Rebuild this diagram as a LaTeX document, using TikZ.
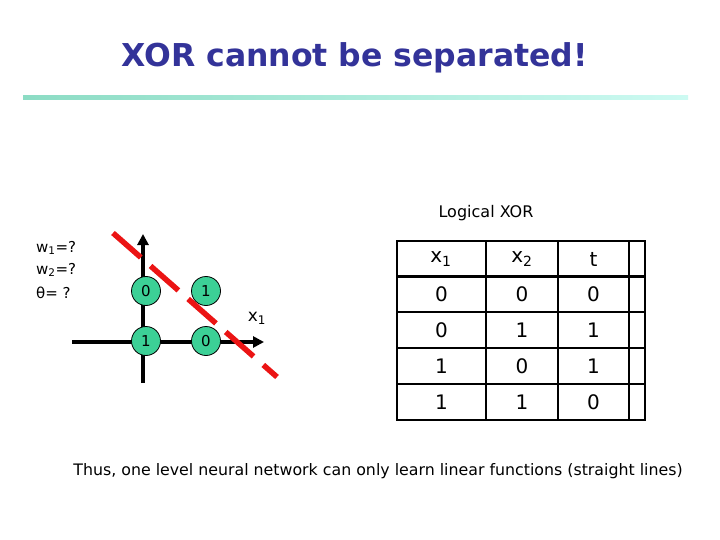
\documentclass[tikz,border=0pt]{standalone}
\usepackage{fontspec}
\setmainfont{DejaVu Sans}
\usetikzlibrary{arrows.meta}
\definecolor{titleblue}{RGB}{51,51,153}
\definecolor{mint}{RGB}{60,208,150}
\definecolor{gradL}{RGB}{140,220,196}
\definecolor{gradR}{RGB}{205,250,242}
\definecolor{sepred}{RGB}{235,20,20}
\newcommand{\fs}[1]{\fontsize{#1}{#1}\selectfont}
\tikzset{
  axis/.style={line width=3.5pt,-{Triangle[length=11pt,width=11pt]}},
  axisplain/.style={line width=3.5pt},
  pt/.style={circle,draw=black,line width=0.8pt,fill=mint,minimum size=29pt,inner sep=0pt,font=\fs{15}},
  grid/.style={line width=2.4pt,line cap=rect},
  cell/.style={font=\fs{20},inner sep=0pt,anchor=center},
  sepline/.style={sepred,line width=5.5pt,dash pattern=on 37pt off 13pt},
  lbl/.style={font=\fs{15},inner sep=0pt,anchor=west}
}
\begin{document}
\begin{tikzpicture}[x=1pt,y=-1pt]
\useasboundingbox[fill=white] (0,0) rectangle (720,540);
% title
\node[font=\bfseries\fs{31.5},text=titleblue,inner sep=0pt,anchor=base west] (title) at (121,67) {XOR cannot be separated!};
\shade[left color=gradL,right color=gradR] (23,96) rectangle (688,100);
% left labels
\node[lbl] (w1) at (36,248) {w\textsubscript{1}=?};
\node[lbl] (w2) at (36,270) {w\textsubscript{2}=?};
\node[lbl] (th) at (36,293) {θ= ?};
% axes
\coordinate (ytop) at (143,234);
\coordinate (ybot) at (143,383);
\coordinate (xl) at (72,342);
\coordinate (xr) at (264,342);
\draw[axisplain] (ybot) -- (143,240);
\draw[axis] (143,250) -- (ytop);
\draw[axis] (xl) -- (xr);
\node[font=\fs{17},inner sep=0pt] (xlab) at (257,318) {x\textsubscript{1}};
% points
\node[pt] (p01) at (146,291) {0};
\node[pt] (p11) at (206,291) {1};
\node[pt] (p00) at (146,341) {1};
\node[pt] (p10) at (206,341) {0};
% separating line
\coordinate (s1) at (113,233);
\coordinate (s2) at (277,377);
\draw[sepline] (s1) -- (s2);
% table caption
\node[font=\fs{16},inner sep=0pt] (cap) at (486,213) {Logical XOR};
% table grid
\foreach \y in {241,276.5,312,348,384,420} \draw[grid] (397,\y) -- (645,\y);
\foreach \x in {397,486,558,629,645} \draw[grid] (\x,241) -- (\x,420);
% table cells
\node[cell] (h1) at (441,259) {x\textsubscript{1}};
\node[cell] (h2) at (522,259) {x\textsubscript{2}};
\node[cell] (h3) at (593.5,259) {t};
\node[cell] (a1) at (441.5,294) {0};
\node[cell] (a2) at (522,294) {0};
\node[cell] (a3) at (593.5,294) {0};
\node[cell] (b1) at (441.5,330) {0};
\node[cell] (b2) at (522,330) {1};
\node[cell] (b3) at (593.5,330) {1};
\node[cell] (c1) at (441.5,366) {1};
\node[cell] (c2) at (522,366) {0};
\node[cell] (c3) at (593.5,366) {1};
\node[cell] (d1) at (441.5,402) {1};
\node[cell] (d2) at (522,402) {1};
\node[cell] (d3) at (593.5,402) {0};
% bottom text
\node[font=\fs{15.8},inner sep=0pt] (note) at (378,471) {Thus, one level neural network can only learn linear functions (straight lines)};
\end{tikzpicture}
\end{document}
